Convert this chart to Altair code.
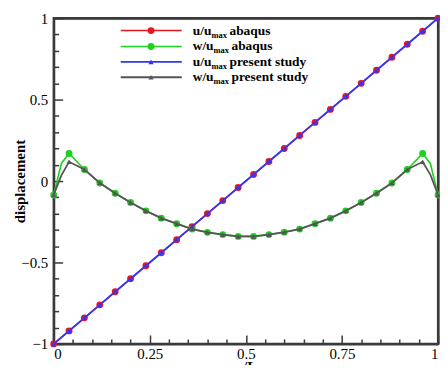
import altair as alt
import pandas as pd

# ---------------- data ----------------
x_grid = [0.0, 0.04, 0.08, 0.12, 0.16, 0.20, 0.24, 0.28, 0.32, 0.36, 0.40, 0.44, 0.48,
          0.52, 0.56, 0.60, 0.64, 0.68, 0.72, 0.76, 0.80, 0.84, 0.88, 0.92, 0.96, 1.0]
u_abaqus = [-1.0, -0.92, -0.84, -0.76, -0.68, -0.60, -0.52, -0.44, -0.36, -0.28, -0.20, -0.12, -0.04,
            0.04, 0.12, 0.20, 0.28, 0.36, 0.44, 0.52, 0.60, 0.68, 0.76, 0.84, 0.92, 1.0]
u_present = [-1.0, -0.92, -0.84, -0.76, -0.68, -0.60, -0.52, -0.44, -0.36, -0.28, -0.20, -0.12, -0.04,
             0.04, 0.12, 0.20, 0.28, 0.36, 0.44, 0.52, 0.60, 0.68, 0.76, 0.84, 0.92, 1.0]

x_w_abaqus = [0.0, 0.02, 0.04, 0.08, 0.12, 0.16, 0.20, 0.24, 0.28, 0.32, 0.36, 0.40, 0.44, 0.48,
              0.52, 0.56, 0.60, 0.64, 0.68, 0.72, 0.76, 0.80, 0.84, 0.88, 0.92, 0.96, 0.98, 1.0]
w_abaqus = [-0.085, 0.108, 0.169, 0.071, -0.012, -0.075, -0.132, -0.183, -0.228, -0.262, -0.295,
            -0.315, -0.329, -0.340, -0.340, -0.329, -0.314, -0.295, -0.262, -0.228, -0.183,
            -0.132, -0.075, -0.012, 0.071, 0.169, 0.108, -0.085]
w_abaqus_marker = [True, False] + [True] * 24 + [False, True]

x_w_present = [0.0, 0.02, 0.04, 0.08, 0.12, 0.16, 0.20, 0.24, 0.28, 0.32, 0.36, 0.40, 0.44, 0.48,
               0.52, 0.56, 0.60, 0.64, 0.68, 0.72, 0.76, 0.80, 0.84, 0.88, 0.92, 0.96, 0.98, 1.0]
w_present = [-0.085, 0.035, 0.118, 0.071, -0.012, -0.075, -0.132, -0.183, -0.228, -0.262, -0.295,
             -0.315, -0.329, -0.340, -0.340, -0.329, -0.314, -0.295, -0.262, -0.228, -0.183,
             -0.132, -0.075, -0.012, 0.071, 0.118, 0.040, -0.085]
w_present_marker = [True, False] + [True] * 24 + [False, True]

x_major_ticks = [0, 0.25, 0.5, 0.75, 1]
x_minor_ticks = [0.05, 0.1, 0.15, 0.2, 0.3, 0.35, 0.4, 0.45, 0.55, 0.6, 0.65, 0.7, 0.8, 0.85, 0.9, 0.95]
y_major_ticks = [-1, -0.5, 0, 0.5, 1]
y_minor_ticks = [-0.9, -0.8, -0.7, -0.6, -0.4, -0.3, -0.2, -0.1, 0.1, 0.2, 0.3, 0.4, 0.6, 0.7, 0.8, 0.9]

legend_main = ["u/u", "w/u", "u/u", "w/u"]
legend_sub = ["max", "max", "max", "max"]
legend_rest = ["abaqus", "abaqus", "present study", "present study"]

# ---------------- styling ----------------
RED, GREEN, BLUE, GRAY = "#e8161e", "#1fd11f", "#3535f5", "#555555"
INK = "#3a3a3a"
FONT = "Liberation Serif"
W, H = 387, 328

xs = alt.Scale(domain=[0, 1], nice=False, zero=False)
ys = alt.Scale(domain=[-1, 1], nice=False, zero=False)

frame_style = dict(domain=True, domainColor=INK, domainWidth=2.2, grid=False)

ax_x_main = alt.Axis(orient="bottom", values=x_major_ticks, format=".2~f", ticks=False,
                     labelPadding=3, title="x/L", titleBaseline="alphabetic", titleY=28, titleX=W / 2,
                     **frame_style)
ax_y_main = alt.Axis(orient="left", values=y_major_ticks, format=".1~f", ticks=False,
                     labelPadding=6, title="displacement", titleX=-34, titleY=H / 2, titleAngle=-90,
                     titleAlign="center", titleBaseline="middle", **frame_style)
ax_x_top = alt.Axis(orient="top", offset=0, labels=False, ticks=False, title="", **frame_style)
ax_y_right = alt.Axis(orient="right", offset=0, labels=False, ticks=False, title="", **frame_style)


def tick_axis(orient, offset, vals, size):
    return alt.Axis(orient=orient, offset=offset, values=vals, labels=False, ticks=True, tickSize=size,
                    tickWidth=1.5, tickColor=INK, domain=False, grid=False, title="")


ax_x_tmaj = tick_axis("top", -H, x_major_ticks, 9)
ax_y_tmaj = tick_axis("right", -W, y_major_ticks, 9)
ax_x_tmin = tick_axis("top", -H, x_minor_ticks, 5)
ax_y_tmin = tick_axis("right", -W, y_minor_ticks, 5)

df_u_ab = pd.DataFrame({"x": x_grid, "y": u_abaqus})
df_u_pr = pd.DataFrame({"x": x_grid, "y": u_present})
df_w_ab = pd.DataFrame({"x": x_w_abaqus, "y": w_abaqus, "m": w_abaqus_marker})
df_w_pr = pd.DataFrame({"x": x_w_present, "y": w_present, "m": w_present_marker})


def enc(chart, xa=None, ya=None):
    return chart.encode(x=alt.X("x:Q", scale=xs, axis=xa), y=alt.Y("y:Q", scale=ys, axis=ya))


layers = []
layers.append(enc(alt.Chart(df_u_ab).mark_line(color=RED, strokeWidth=1.5), ax_x_main, ax_y_main))
layers.append(enc(alt.Chart(df_u_ab).mark_point(shape="circle", filled=True, size=48, color=RED, opacity=1),
                  ax_x_top, ax_y_right))
layers.append(enc(alt.Chart(df_w_ab).mark_line(color=GREEN, strokeWidth=1.6), ax_x_tmaj, ax_y_tmaj))
layers.append(enc(alt.Chart(df_w_ab[df_w_ab["m"]]).mark_point(shape="circle", filled=True, size=48,
                                                                color=GREEN, opacity=1),
                  ax_x_tmin, ax_y_tmin))
layers.append(enc(alt.Chart(df_u_pr).mark_line(color=BLUE, strokeWidth=1.8)))
layers.append(enc(alt.Chart(df_u_pr).mark_point(shape="triangle-up", filled=True, size=28, color=BLUE,
                                                opacity=1)))
layers.append(enc(alt.Chart(df_w_pr).mark_line(color=GRAY, strokeWidth=1.8)))
layers.append(enc(alt.Chart(df_w_pr[df_w_pr["m"]]).mark_point(shape="triangle-up", filled=True, size=28,
                                                                color=GRAY, opacity=1)))

# legend
one = pd.DataFrame({"k": [0]})
rows_y = [12.5, 28.5, 44, 59.5]
styles = [(RED, "circle", 48), (GREEN, "circle", 48), (BLUE, "triangle-up", 28), (GRAY, "triangle-up", 28)]
line_w = [1.5, 1.6, 1.8, 1.8]
tx = 140
for i in range(4):
    col, shp, sz = styles[i]
    ry = rows_y[i]
    layers.append(alt.Chart(one).mark_rule(color=col, strokeWidth=line_w[i])
                  .encode(x=alt.value(67.5), x2=alt.value(129), y=alt.value(ry)))
    layers.append(alt.Chart(one).mark_point(shape=shp, filled=True, size=sz, color=col, opacity=1)
                  .encode(x=alt.value(98), y=alt.value(ry)))
    main_w = 19 if legend_main[i].startswith("u") else 21
    layers.append(alt.Chart(one).mark_text(text=legend_main[i], font=FONT, fontSize=13.5, fontWeight="bold",
                                           color="#000000", align="left", baseline="alphabetic")
                  .encode(x=alt.value(tx), y=alt.value(ry + 4)))
    layers.append(alt.Chart(one).mark_text(text=legend_sub[i], font=FONT, fontSize=8.5, fontWeight="bold",
                                           color="#000000", align="left", baseline="alphabetic")
                  .encode(x=alt.value(tx + main_w), y=alt.value(ry + 7)))
    layers.append(alt.Chart(one).mark_text(text=legend_rest[i], font=FONT, fontSize=13.5, fontWeight="bold",
                                           color="#000000", align="left", baseline="alphabetic")
                  .encode(x=alt.value(tx + main_w + 18), y=alt.value(ry + 4)))

chart = alt.layer(*layers).resolve_axis(x="independent", y="independent").properties(
    width=W, height=H,
    padding={"left": 46, "top": 9, "right": 2, "bottom": 20},
    autosize=alt.AutoSizeParams(type="none"),
).configure_view(stroke=INK, strokeWidth=2.2).configure_axis(
    labelFont=FONT, labelFontSize=15, labelColor="#000000",
    titleFont=FONT, titleFontSize=15, titleFontWeight="bold", titleColor="#000000",
)

chart.save("out.html", embed_options={"renderer": "svg", "actions": False})
